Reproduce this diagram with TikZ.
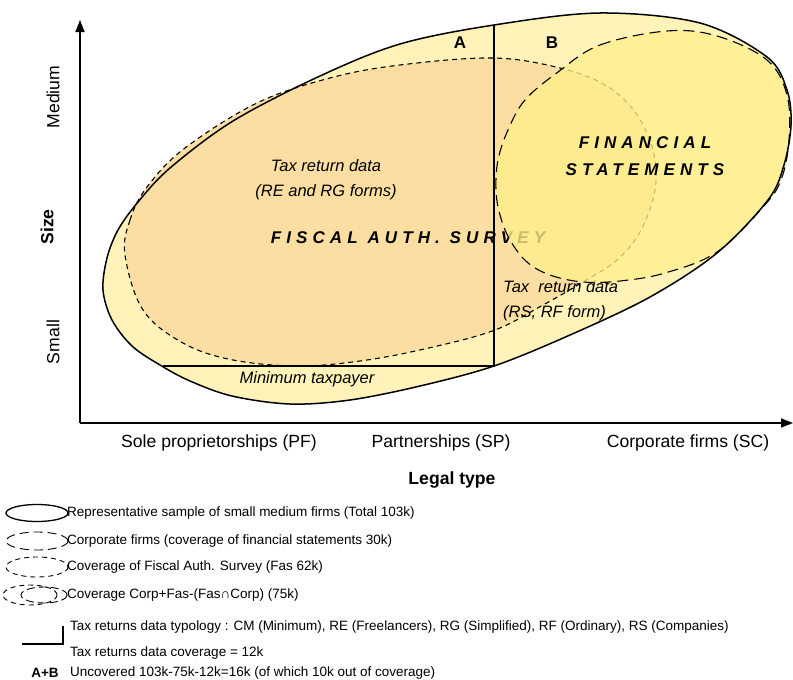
\documentclass[tikz,border=0pt]{standalone}
\usepackage{fontspec}
\setmainfont{Liberation Sans}
\usetikzlibrary{arrows.meta}
\definecolor{sampleyellow}{RGB}{255,243,186}
\definecolor{fasorange}{RGB}{253,222,162}
\definecolor{fsyellow}{RGB}{255,239,140}

\begin{document}
\begin{tikzpicture}[x=1pt, y=-1pt,
    axisline/.style={line width=1.5pt, -{Triangle[width=9pt,length=12pt]}},
    axislabel/.style={inner sep=0pt, font=\fontsize{17.6}{20}\selectfont},
    areatext/.style={inner sep=0pt, font=\fontsize{16.5}{25}\selectfont\itshape},
    spaced/.style={inner sep=0pt, font=\fontsize{17}{27}\selectfont\bfseries\itshape\addfontfeature{LetterSpace=30}},
    legtext/.style={inner sep=0pt, anchor=west, font=\fontsize{13.5}{16}\selectfont},
    shortdash/.style={line width=1.1pt, dash pattern=on 5pt off 4pt},
    longdash/.style={line width=1.1pt, dash pattern=on 11pt off 6pt}]
      \useasboundingbox (0,0) rectangle (793,680);
      \def\outerpts{(103,290) (107,258) (118,230) (138,202) (170,168) (233,121) (320,76) (400,44) (494,25) (600,13) (700,23) (767,57) (787,90) (791,125) (784,165) (768,200) (717,253) (650,297) (570,335) (494,366) (420,386) (350,400) (290,404) (232,396) (190,381) (160,365) (132,346) (112,320)}
      \def\faspts{(125,255) (130,220) (147,187) (185,148) (257,103) (330,78) (400,65) (493,58) (560,68) (605,85) (635,112) (653,150) (655,190) (640,232) (617,260) (583,282) (543,305) (495,330) (433,347) (367,360) (300,366) (233,360) (183,343) (143,310)}
      \def\fspts{(558,72) (600,45) (667,31) (717,36) (767,60) (787,95) (789,140) (781,180) (763,207) (717,252) (665,273) (620,281) (583,282) (550,275) (527,262) (510,240) (500,215) (496,190) (498,160) (508,130) (525,100)}
      %
      \coordinate (O) at (80,423);
      \coordinate (ytop) at (80,20);
      \coordinate (xend) at (793,423);
      \draw[axisline] (O) -- (ytop);   % size axis
      \draw[axisline] (O) -- (xend);   % legal type axis
      %
      \node[axislabel, rotate=90] (medium) at (53,97) {Medium};
      \node[axislabel, rotate=90, font=\fontsize{17.6}{20}\selectfont\bfseries] (size) at (47,227) {Size};
      \node[axislabel, rotate=90] (small) at (53,342) {Small};
      \node[axislabel] (pf) at (219,443) {Sole proprietorships (PF)};
      \node[axislabel] (sp) at (441,443) {Partnerships (SP)};
      \node[axislabel] (sc) at (688,443) {Corporate firms (SC)};
      \node[axislabel, font=\fontsize{17.6}{20}\selectfont\bfseries] (legal) at (452,480) {Legal type};
      %
      \fill[sampleyellow] plot[smooth cycle, tension=0.55] coordinates {\outerpts};   % whole sample
      \fill[fasorange] plot[smooth cycle, tension=0.6] coordinates {\faspts};   % fiscal survey
      %
      \node[areatext, align=center] (taxre) at (326,180) {Tax return data\\(RE and RG forms)};
      \node[spaced] (fas) at (408,238) {FISCAL AUTH. SURVEY};
      \node[areatext] (mintax) at (307,379) {Minimum taxpayer};
      \node[areatext, anchor=west, align=left] (taxrs) at (503,301) {Tax\ \ return data\\(RS, RF form)};
      %
      \draw[shortdash] plot[smooth cycle, tension=0.6] coordinates {\faspts};
      \fill[fsyellow, opacity=0.78] plot[smooth cycle, tension=0.6] coordinates {\fspts};   % financial statements
      \draw[longdash] plot[smooth cycle, tension=0.6] coordinates {\fspts};
      \draw[line width=1.5pt] plot[smooth cycle, tension=0.55] coordinates {\outerpts};
      %
      \coordinate (typtop) at (494,25);
      \coordinate (typbot) at (494,366);
      \coordinate (minleft) at (163,366);
      \draw[line width=1.4pt] (typtop) -- (typbot) -- (minleft);   % tax return split
      %
      \node[spaced, align=center] (fs) at (645,156) {FINANCIAL\\STATEMENTS};
      \node[spaced, font=\fontsize{17}{20}\selectfont\bfseries] (regA) at (460,43) {A};
      \node[spaced, font=\fontsize{17}{20}\selectfont\bfseries] (regB) at (552,43) {B};
      %
      % legend
      \draw[line width=1.3pt] (37,513) ellipse [x radius=31, y radius=8.5];
      \node[legtext] (leg1) at (67,513) {Representative sample of small medium firms (Total 103k)};
      \draw[longdash, line width=0.9pt, dash pattern=on 9pt off 5pt] (37,541) ellipse [x radius=31, y radius=9];
      \node[legtext] (leg2) at (67,541) {Corporate firms (coverage of financial statements 30k)};
      \draw[shortdash, line width=0.9pt] (37,567) ellipse [x radius=31, y radius=10];
      \node[legtext] (leg3) at (67,567) {Coverage of Fiscal Auth. Survey (Fas 62k)};
      \draw[shortdash, line width=0.9pt] (30,595) ellipse [x radius=27, y radius=10];
      \draw[longdash, line width=0.9pt, dash pattern=on 8pt off 4pt] (44,595) ellipse [x radius=23, y radius=8];
      \node[legtext] (leg4) at (67,595) {Coverage Corp+Fas-(Fas∩Corp) (75k)};
      %
      \coordinate (legtop) at (63,626);
      \coordinate (legbot) at (63,644);
      \coordinate (legleft) at (22,644);
      \draw[line width=1.4pt] (legtop) -- (legbot) -- (legleft);
      \node[legtext] (leg5) at (70,627) {Tax returns data typology : CM (Minimum), RE (Freelancers), RG (Simplified), RF (Ordinary), RS (Companies)};
      \node[legtext] (leg6) at (70,653) {Tax returns data coverage = 12k};
      \node[inner sep=0pt, font=\fontsize{13.5}{16}\selectfont\bfseries] (ab) at (45,673) {A+B};
      \node[legtext] (leg7) at (70,673) {Uncovered 103k-75k-12k=16k (of which 10k out of coverage)};
    \end{tikzpicture}
\end{document}
